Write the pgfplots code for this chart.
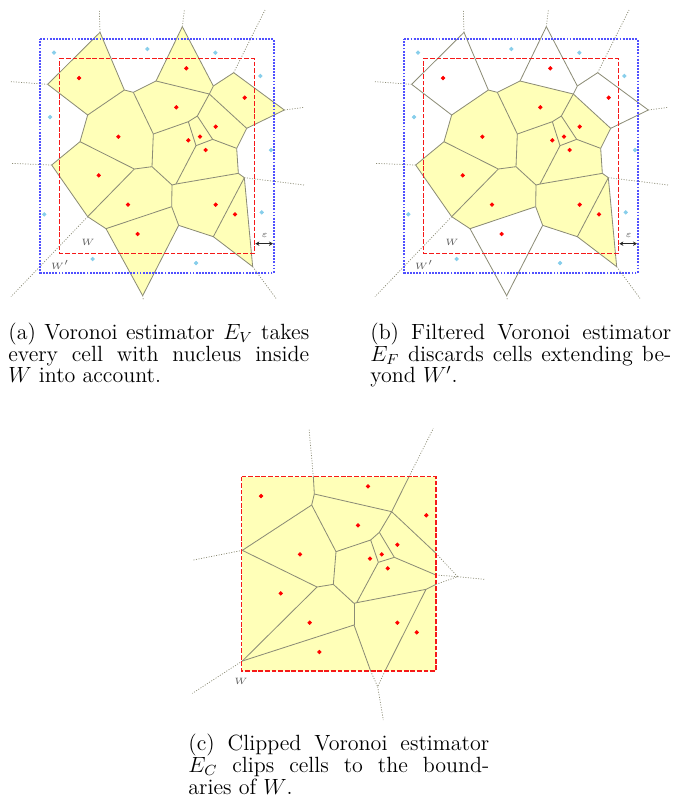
\documentclass[border=0pt]{standalone}
\usepackage{pgfplots}
\pgfplotsset{compat=1.18}
\usetikzlibrary{arrows.meta}
\definecolor{cellfill}{RGB}{255,255,184}
\definecolor{edgegray}{RGB}{140,140,118}
\definecolor{ptblue}{RGB}{135,206,235}
\definecolor{wred}{RGB}{245,25,25}
\definecolor{wblue}{RGB}{80,80,255}
\definecolor{labgray}{RGB}{90,90,90}
\pgfplotsset{
 vor/.style={hide axis, scale only axis, x=0.181667pt, y=0.181667pt, y dir=reverse,
   xmin=0, xmax=930, ymin=0, ymax=900, clip=false, anchor=north west},
 edge/.style={draw=edgegray, line width=0.45pt, mark=none, forget plot},
 ray/.style={draw=edgegray, line width=0.4pt, dash pattern=on 0.55pt off 0.85pt, mark=none, forget plot},
 cell/.style={fill=cellfill, draw=none, mark=none, forget plot},
 redpts/.style={only marks, color=red, mark=*, mark size=0.95pt, mark options={draw=red, fill=red, line width=0.4pt}, forget plot},
 bluepts/.style={only marks, color=ptblue, mark=*, mark size=0.95pt, mark options={draw=ptblue, fill=ptblue, line width=0.4pt}, forget plot},
 wbox/.style={draw=wred, line width=0.7pt, dash pattern=on 2.6pt off 1.0pt, mark=none, forget plot},
 wpbox/.style={draw=wblue, line width=1pt, dash pattern=on 1pt off 0.7pt, mark=none, forget plot},
}
\newcommand\E[4]{\addplot[edge] coordinates {(#1,#2) (#3,#4)};}
\newcommand\R[4]{\addplot[ray] coordinates {(#1,#2) (#3,#4)};}

% cells of the full diagram (panels a, b)
\newcommand\CellA{\addplot[cell] coordinates {(312,97) (155,253) (275,345) (385,270)} --cycle;}
\newcommand\CellB{\addplot[cell] coordinates {(559,80) (480,243) (640,282) (652,258)} --cycle;}
\newcommand\CellC{\addplot[cell] coordinates {(713,218) (865,330) (752,385) (640,282) (652,258)} --cycle;}
\newcommand\CellN{\addplot[cell] coordinates {(330,686) (527,620) (548,676) (440,887)} --cycle;}
\newcommand\CellsInner{%
\addplot[cell] coordinates {(412,277) (480,243) (640,282) (604,348) (577,365) (472,402)} --cycle;
\addplot[cell] coordinates {(275,345) (385,270) (412,277) (472,402) (468,500) (415,507) (252,425)} --cycle;
\addplot[cell] coordinates {(640,282) (752,385) (722,445) (650,418) (604,348)} --cycle;
\addplot[cell] coordinates {(472,402) (577,365) (600,437) (540,552) (528,555) (468,500)} --cycle;
\addplot[cell] coordinates {(577,365) (604,348) (650,418) (600,437)} --cycle;
\addplot[cell] coordinates {(600,437) (650,418) (722,445) (727,520) (540,552)} --cycle;
\addplot[cell] coordinates {(252,425) (415,507) (275,650) (167,495)} --cycle;
\addplot[cell] coordinates {(415,507) (468,500) (528,555) (527,620) (330,686) (275,650)} --cycle;
\addplot[cell] coordinates {(528,555) (540,552) (727,520) (745,533) (652,710) (548,676) (527,620)} --cycle;
\addplot[cell] coordinates {(745,533) (770,800) (652,710)} --cycle;
}
\newcommand\EdgesAB{%
\E{312}{97}{155}{253}\E{312}{97}{385}{270}\E{155}{253}{275}{345}\E{275}{345}{385}{270}
\E{385}{270}{412}{277}\E{412}{277}{480}{243}\E{480}{243}{559}{80}\E{559}{80}{652}{258}
\E{652}{258}{713}{218}\E{713}{218}{865}{330}\E{865}{330}{752}{385}\E{752}{385}{640}{282}
\E{640}{282}{652}{258}\E{640}{282}{480}{243}\E{640}{282}{604}{348}\E{604}{348}{577}{365}
\E{577}{365}{472}{402}\E{472}{402}{412}{277}\E{472}{402}{468}{500}\E{468}{500}{415}{507}
\E{415}{507}{252}{425}\E{252}{425}{275}{345}\E{252}{425}{167}{495}\E{167}{495}{275}{650}
\E{275}{650}{415}{507}\E{275}{650}{330}{686}\E{330}{686}{527}{620}\E{527}{620}{528}{555}
\E{528}{555}{468}{500}\E{528}{555}{540}{552}\E{540}{552}{600}{437}\E{600}{437}{577}{365}
\E{600}{437}{650}{418}\E{650}{418}{604}{348}\E{650}{418}{722}{445}\E{722}{445}{752}{385}
\E{722}{445}{727}{520}\E{727}{520}{540}{552}\E{727}{520}{745}{533}\E{745}{533}{652}{710}
\E{745}{533}{770}{800}\E{652}{710}{770}{800}\E{652}{710}{548}{676}\E{548}{676}{527}{620}
\E{548}{676}{440}{887}\E{440}{887}{330}{686}
\R{312}{97}{310}{30}\R{559}{80}{565}{30}\R{713}{218}{807}{30}\R{865}{330}{925}{322}
\R{745}{533}{925}{555}\R{770}{800}{840}{895}\R{440}{887}{442}{900}\R{275}{650}{45}{890}
\R{167}{495}{45}{490}\R{155}{253}{45}{245}
}
\newcommand\DecoAB{%
\addplot[wpbox] coordinates {(133,118) (833,118) (833,818) (133,818) (133,118)};
\addplot[wbox] coordinates {(190,175) (775,175) (775,760) (190,760) (190,175)};
\addplot[bluepts] coordinates {(174,158) (454,147) (658,158) (793,228) (162,351) (825,450) (145,643) (797,637) (290,777) (600,789)};
\addplot[redpts] coordinates {(249,234) (571,205) (746,293) (541,322) (367,410) (659,380) (577,421) (612,410) (629,450) (308,526) (396,614) (659,614) (717,643) (425,702)};
\addplot[black!85, line width=0.6pt, mark=none, {Stealth[length=2.2pt,width=2.4pt]}-{Stealth[length=2.2pt,width=2.4pt]}, forget plot] coordinates {(778,731) (831,731)};
\node[text=labgray, font=\tiny] at (axis cs:806,708) {$\varepsilon$};
\node[text=labgray, font=\tiny] at (axis cs:276,727) {$W$};
\node[text=labgray, font=\tiny] at (axis cs:192,794) {$W'$};
}

\begin{document}
\begin{tikzpicture}
\useasboundingbox (0,0) rectangle (366.785pt,-440.905pt);

% ---------- panel (a)
\begin{axis}[vor, at={(-2.18pt,0pt)}]
\CellA\CellB\CellC\CellN\CellsInner
\EdgesAB
\DecoAB
\end{axis}

% ---------- panel (b)
\begin{axis}[vor, at={(196.2pt,0pt)}]
\CellsInner
\EdgesAB
\DecoAB
\end{axis}

% ---------- panel (c)
\begin{axis}[vor, xmax=900, at={(100.825pt,-231.625pt)}]
\addplot[cell] coordinates {(170,155) (753,155) (753,738) (170,738)} --cycle;
\E{385}{155}{388}{207}\E{388}{207}{380}{240}\E{388}{207}{620}{260}\E{620}{260}{672}{155}
\E{620}{260}{583}{322}\E{620}{260}{753}{385}\E{380}{240}{172}{376}\E{380}{240}{453}{380}
\E{453}{380}{557}{345}\E{557}{345}{583}{322}\E{583}{322}{628}{397}\E{557}{345}{580}{412}
\E{580}{412}{628}{397}\E{628}{397}{753}{450}\E{580}{412}{515}{533}\E{453}{380}{445}{478}
\E{445}{478}{396}{486}\E{396}{486}{172}{376}\E{445}{478}{507}{535}\E{507}{535}{515}{533}
\E{515}{533}{723}{493}\E{723}{493}{753}{478}\E{723}{493}{600}{738}\E{507}{535}{507}{600}
\E{507}{600}{172}{708}\E{507}{600}{557}{738}\E{396}{486}{172}{708}
\R{385}{155}{372}{10}\R{672}{155}{745}{10}\R{753}{385}{818}{455}\R{753}{450}{818}{455}
\R{753}{478}{818}{455}\R{818}{455}{900}{463}\R{172}{376}{25}{405}\R{172}{708}{22}{805}
\R{600}{738}{578}{785}\R{557}{738}{578}{785}\R{578}{785}{595}{885}
\addplot[wbox] coordinates {(170,155) (753,155) (753,738) (170,738) (170,155)};
\addplot[redpts] coordinates {(228,213) (549,184) (724,271) (519,301) (345,388) (637,359) (555,401) (590,388) (608,430) (287,505) (374,593) (637,593) (695,622) (403,681)};
\node[text=labgray, font=\tiny] at (axis cs:168,768) {$W$};
\end{axis}

% ---------- captions
\tikzset{capt/.style={anchor=north west, inner sep=0pt, text width=164pt, align=justify, font=\fontsize{12}{11.85}\selectfont}}
\node[capt] at (4.36pt,-175.8pt)
 {(a) Voronoi estimator $E_V$ takes\linebreak every cell with nucleus inside\linebreak $W$ into account.};
\node[capt] at (201.65pt,-175.8pt)
 {(b) Filtered Voronoi estimator\linebreak $E_F$ discards cells extending be-\linebreak yond $W'$.};
\node[capt] at (102.46pt,-400.0pt)
 {(c) Clipped Voronoi estimator\linebreak $E_C$ clips cells to the bound-\linebreak aries of $W$.};
\end{tikzpicture}
\end{document}
